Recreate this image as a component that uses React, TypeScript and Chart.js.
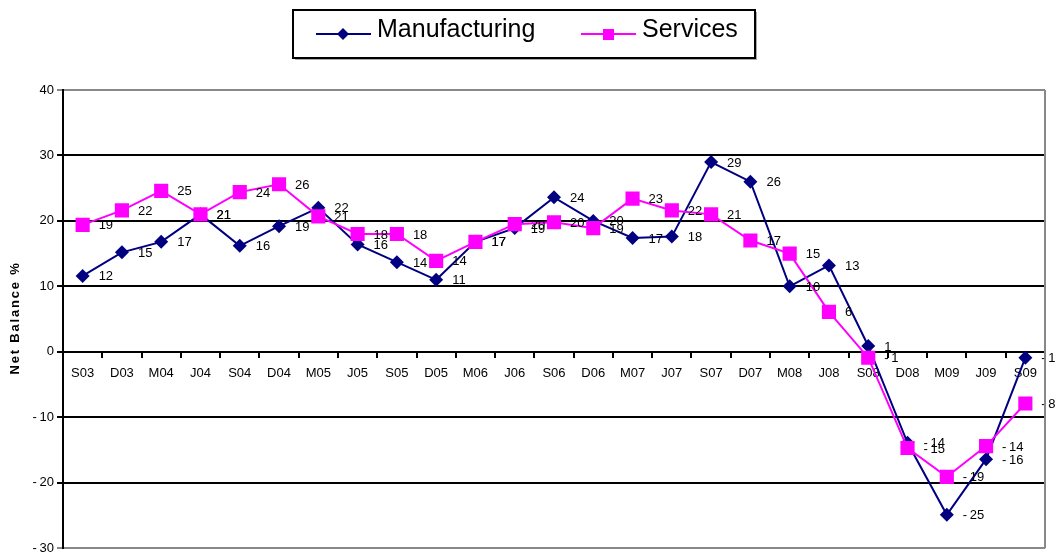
import React, { useEffect, useRef } from "react";
import { Chart, registerables } from "chart.js";

Chart.register(...registerables);

const categories = ["S03","D03","M04","J04","S04","D04","M05","J05","S05","D05","M06","J06","S06","D06","M07","J07","S07","D07","M08","J08","S08","D08","M09","J09","S09"];
const manufacturing = [11.6,15.2,16.8,21,16.2,19.2,22,16.4,13.7,11,16.8,18.9,23.6,20,17.4,17.6,29,26,10,13.2,0.9,-13.9,-24.9,-16.4,-0.9];
const services = [19.4,21.6,24.6,21,24.4,25.6,20.7,18,18,13.9,16.8,19.5,19.8,18.9,23.4,21.6,21,17,15,6.1,-0.9,-14.7,-19.1,-14.4,-7.9];
const yTicks = { min: -30, max: 40, step: 10 };
const seriesNames = ["Manufacturing", "Services"];
const axisTitle = "Net Balance %";

const FONT = "Arial, 'Liberation Sans', sans-serif";
const NAVY = "#000080";
const MAGENTA = "#FF00FF";

const fmt = (v: number) => (v < 0 ? "-\u2009" + String(Math.abs(v)) : String(v));

const overlayPlugin = {
  id: "overlay",
  afterDatasetsDraw(chart: any) {
    const ctx = chart.ctx;
    ctx.save();
    ctx.fillStyle = "#000";
    ctx.font = `13px ${FONT}`;
    ctx.textAlign = "left";
    ctx.textBaseline = "middle";
    chart.data.datasets.forEach((ds: any, i: number) => {
      const meta = chart.getDatasetMeta(i);
      meta.data.forEach((pt: any, j: number) => {
        const v = Math.round(ds.data[j]);
        ctx.fillText(fmt(v), pt.x + 16, pt.y + 1);
      });
    });
    ctx.restore();
  },
  afterDraw(chart: any) {
    const ctx = chart.ctx;
    const a = chart.chartArea;
    ctx.save();
    // right border
    ctx.strokeStyle = "#888";
    ctx.lineWidth = 2;
    ctx.beginPath();
    ctx.moveTo(a.right, a.top);
    ctx.lineTo(a.right, a.bottom);
    ctx.stroke();
    // axis title
    ctx.save();
    ctx.translate(15, 318);
    ctx.rotate(-Math.PI / 2);
    ctx.fillStyle = "#000";
    ctx.font = `bold 13px ${FONT}`;
    try { (ctx as any).letterSpacing = "1.8px"; } catch (e) {}
    ctx.textAlign = "center";
    ctx.textBaseline = "middle";
    ctx.fillText(axisTitle, 0, 0);
    ctx.restore();
    // legend
    ctx.fillStyle = "#aaa";
    ctx.fillRect(295, 12, 462, 48);
    ctx.fillStyle = "#fff";
    ctx.fillRect(293, 10, 462, 48);
    ctx.strokeStyle = "#000";
    ctx.lineWidth = 2;
    ctx.strokeRect(293, 10, 462, 48);
    // manufacturing
    ctx.strokeStyle = NAVY;
    ctx.lineWidth = 2;
    ctx.beginPath();
    ctx.moveTo(316, 34);
    ctx.lineTo(371, 34);
    ctx.stroke();
    ctx.fillStyle = NAVY;
    ctx.beginPath();
    ctx.moveTo(343, 28);
    ctx.lineTo(349, 34);
    ctx.lineTo(343, 40);
    ctx.lineTo(337, 34);
    ctx.closePath();
    ctx.fill();
    // services
    ctx.strokeStyle = MAGENTA;
    ctx.beginPath();
    ctx.moveTo(581, 34);
    ctx.lineTo(636, 34);
    ctx.stroke();
    ctx.fillStyle = MAGENTA;
    ctx.fillRect(603, 29, 11, 11);
    ctx.fillStyle = "#000";
    ctx.font = `25px ${FONT}`;
    ctx.textAlign = "left";
    ctx.textBaseline = "alphabetic";
    ctx.fillText(seriesNames[0], 377, 37);
    ctx.fillText(seriesNames[1], 642, 37);
    ctx.restore();
  },
};

export default function App() {
  const ref = useRef<HTMLCanvasElement | null>(null);
  useEffect(() => {
    document.body.style.margin = "0";
    document.body.style.overflow = "hidden";
    const chart = new Chart(ref.current as HTMLCanvasElement, {
      type: "line",
      data: {
        labels: categories,
        datasets: [
          {
            label: seriesNames[0],
            data: manufacturing,
            borderColor: NAVY,
            backgroundColor: NAVY,
            borderWidth: 2,
            pointStyle: "rectRot",
            pointRadius: 7,
            pointBorderWidth: 0,
            tension: 0,
            order: 1,
          },
          {
            label: seriesNames[1],
            data: services,
            borderColor: MAGENTA,
            backgroundColor: MAGENTA,
            borderWidth: 2,
            pointStyle: "rect",
            pointRadius: 10,
            pointBorderWidth: 0,
            tension: 0,
            order: 0,
          },
        ],
      },
      options: {
        animation: false,
        responsive: false,
        maintainAspectRatio: false,
        layout: { padding: { top: 90, bottom: 4, left: 0, right: 6 } },
        plugins: { legend: { display: false }, tooltip: { enabled: false }, title: { display: false } },
        scales: {
          x: {
            type: "category",
            position: { y: 0 } as any,
            offset: true,
            grid: { drawOnChartArea: false, drawTicks: true, tickLength: 5, color: "#000", lineWidth: 2, offset: true },
            border: { display: true, color: "#000", width: 2 },
            ticks: { color: "#000", font: { family: FONT, size: 13 }, padding: 9, maxRotation: 0, autoSkip: false },
          },
          y: {
            min: yTicks.min,
            max: yTicks.max,
            afterFit: (scale: any) => { scale.width = 63; },
            ticks: { stepSize: yTicks.step, color: "#000", font: { family: FONT, size: 13 }, padding: 3, callback: (v: any) => fmt(Number(v)) },
            grid: {
              color: (c: any) => (c.tick && (c.tick.value === yTicks.max || c.tick.value === yTicks.min) ? "#888" : "#000"),
              lineWidth: 2,
              tickLength: 6,
              drawTicks: true,
            },
            border: { display: true, color: "#000", width: 2 },
          },
        },
      },
      plugins: [overlayPlugin],
    } as any);
    return () => chart.destroy();
  }, []);
  return (
    <div style={{ width: 1055, height: 555, position: "relative", overflow: "hidden" }}>
      <canvas ref={ref} width={1055} height={559} style={{ display: "block" }} />
    </div>
  );
}
